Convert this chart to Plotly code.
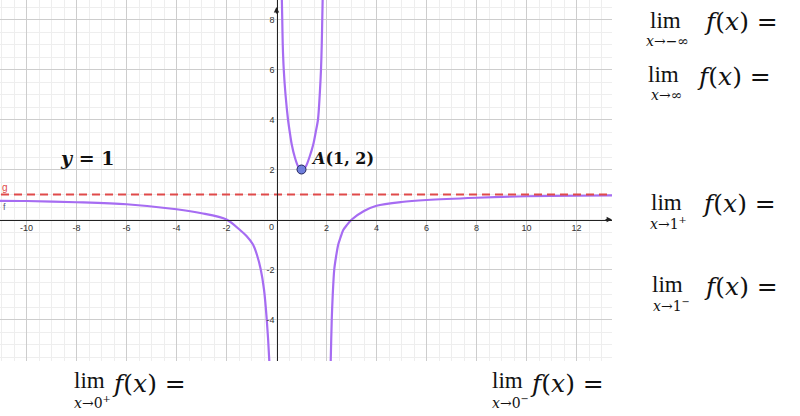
import plotly.graph_objects as go

# ---- data ----
left_x = [-11.3, -10, -8, -6, -4, -3, -2, -1.46, -1.2, -0.94, -0.78, -0.63, -0.5, -0.39, -0.29, -0.26]
left_y = [0.75, 0.74, 0.69, 0.61, 0.41, 0.25, 0.0, -0.42, -0.66, -1.0, -1.42, -2.0, -2.8, -4.0, -5.62, -6.5]

mid_x = [0.21, 0.23, 0.25, 0.29, 0.36, 0.46, 0.53, 0.61, 0.73, 0.87, 1.02, 1.17, 1.32, 1.47, 1.57, 1.66, 1.73, 1.78, 1.81, 1.83, 1.85]
mid_y = [9.0, 8.0, 7.0, 6.0, 5.0, 4.0, 3.5, 3.0, 2.5, 2.12, 2.0, 2.12, 2.5, 3.0, 3.5, 4.0, 5.0, 6.0, 7.0, 8.0, 9.0]

right_x = [2.15, 2.17, 2.21, 2.25, 2.31, 2.38, 2.47, 2.55, 2.67, 2.8, 3.01, 3.5, 4, 5, 6, 8, 10, 12, 13.6]
right_y = [-6.5, -5.62, -4.0, -3.0, -2.0, -1.5, -1.0, -0.75, -0.42, -0.24, 0.0, 0.34, 0.55, 0.7, 0.78, 0.87, 0.93, 0.95, 0.97]

asymptote_y = 1
point_A = (1, 2)

x_ticks = [-10, -8, -6, -4, -2, 2, 4, 6, 8, 10, 12]
y_ticks = [-4, -2, 2, 4, 6, 8]

limit_subs = ["<i>x</i>→−∞", "<i>x</i>→∞", "<i>x</i>→1<sup>+</sup>", "<i>x</i>→1<sup>−</sup>",
              "<i>x</i>→0<sup>+</sup>", "<i>x</i>→0<sup>−</sup>"]

# ---- geometry ----
W, H = 800, 416
ML, MR, MT, MB = 0, 188, 0, 55
PW, PH = W - ML - MR, H - MT - MB
xr = [-11.06, 13.42]
yr = [-5.66, 8.78]

CURVE = "#a66cf2"
RED = "#e04a4a"

fig = go.Figure()

for xs, ys in [(left_x, left_y), (mid_x, mid_y), (right_x, right_y)]:
    fig.add_trace(go.Scatter(x=xs, y=ys, mode="lines",
                             line=dict(color=CURVE, width=2.2, shape="spline", smoothing=0.8),
                             hoverinfo="skip", showlegend=False))

fig.add_trace(go.Scatter(x=[xr[0] - 1, xr[1] + 1], y=[asymptote_y, asymptote_y], mode="lines",
                         line=dict(color=RED, width=2, dash="8px,5px"),
                         hoverinfo="skip", showlegend=False))

fig.add_trace(go.Scatter(x=[point_A[0]], y=[point_A[1]], mode="markers",
                         marker=dict(size=9, color="#6f7fdc", line=dict(color="#23235a", width=1)),
                         hoverinfo="skip", showlegend=False))

def px(x, y):
    """pixel -> paper coords"""
    return (x - ML) / PW, (H - MB - y) / PH

ann = []
# axis arrows
ann.append(dict(x=xr[1], y=0, xref="x", yref="y", ax=-8, ay=0, showarrow=True,
                arrowhead=2, arrowsize=0.9, arrowwidth=1.2, arrowcolor="#222", text=""))
ann.append(dict(x=0, y=yr[1] - 0.28, xref="x", yref="y", ax=0, ay=8, showarrow=True,
                arrowhead=2, arrowsize=0.9, arrowwidth=1.2, arrowcolor="#222", text=""))
# origin label
ann.append(dict(x=-0.22, y=-0.29, xref="x", yref="y", text="0", showarrow=False,
                font=dict(size=9, color="#333", family="Arial")))
# object labels
ann.append(dict(x=-10.85, y=1.3, xref="x", yref="y", text="g", showarrow=False,
                font=dict(size=10, color=RED, family="Arial")))
ann.append(dict(x=-10.9, y=0.5, xref="x", yref="y", text="f", showarrow=False,
                font=dict(size=9, color="#5a5a7a", family="Arial")))
ann.append(dict(x=-7.6, y=2.45, xref="x", yref="y", text="<b><i>y</i> = 1</b>", showarrow=False,
                font=dict(size=19, color="#111", family="DejaVu Serif")))
ann.append(dict(x=1.3, y=2.45, xref="x", yref="y", xanchor="left", text="<b><i>A</i>(1, 2)</b>",
                showarrow=False, font=dict(size=16, color="#111", family="DejaVu Serif")))

# limit expressions: (lim centre x, lim centre y, f(x) left x)
lim_pos = [(665, 20, 702), (663, 74, 695), (666, 202, 700), (668, 284, 702), (89, 381, 110), (507, 381, 528)]
for (lx, ly, fx), sub in zip(lim_pos, limit_subs):
    a, b = px(lx, ly)
    ann.append(dict(x=a, y=b, xref="paper", yref="paper", text="lim", showarrow=False,
                    xanchor="center", yanchor="middle",
                    font=dict(size=23, color="#111", family="Liberation Serif")))
    a, b = px(lx + 3, ly + 21)
    ann.append(dict(x=a, y=b, xref="paper", yref="paper", text=sub,
                    showarrow=False, xanchor="center", yanchor="middle",
                    font=dict(size=14, color="#111", family="DejaVu Serif")))
    a, b = px(fx, ly + 2)
    ann.append(dict(x=a, y=b, xref="paper", yref="paper", text="<i>f</i>(<i>x</i>) =", showarrow=False,
                    xanchor="left", yanchor="middle",
                    font=dict(size=25, color="#111", family="DejaVu Serif")))

fig.update_layout(
    width=W, height=H,
    margin=dict(l=ML, r=MR, t=MT, b=MB, pad=0),
    paper_bgcolor="white", plot_bgcolor="white",
    annotations=ann,
    xaxis=dict(range=xr, anchor="free", position=(0 - yr[0]) / (yr[1] - yr[0]),
               tickmode="array", tickvals=x_ticks, ticktext=[str(v) for v in x_ticks],
               showgrid=True, gridcolor="#cdcdcd", gridwidth=1,
               minor=dict(dtick=0.5, tick0=0, showgrid=True, gridcolor="#eeeeee", gridwidth=1),
               zeroline=False, showline=True, linecolor="#222", linewidth=1.2,
               ticks="", tickfont=dict(size=9, color="#333", family="Arial"),
               fixedrange=True),
    yaxis=dict(range=yr, anchor="free", position=(0 - xr[0]) / (xr[1] - xr[0]),
               tickmode="array", tickvals=y_ticks, ticktext=[str(v) for v in y_ticks],
               showgrid=True, gridcolor="#cdcdcd", gridwidth=1,
               minor=dict(dtick=0.5, tick0=0, showgrid=True, gridcolor="#eeeeee", gridwidth=1),
               zeroline=False, showline=True, linecolor="#222", linewidth=1.2,
               ticks="", tickfont=dict(size=9, color="#333", family="Arial"),
               fixedrange=True),
)

fig.write_html("out.html", config={"displayModeBar": False},
               post_script="document.body.style.margin='0';document.body.style.overflow='hidden';")
